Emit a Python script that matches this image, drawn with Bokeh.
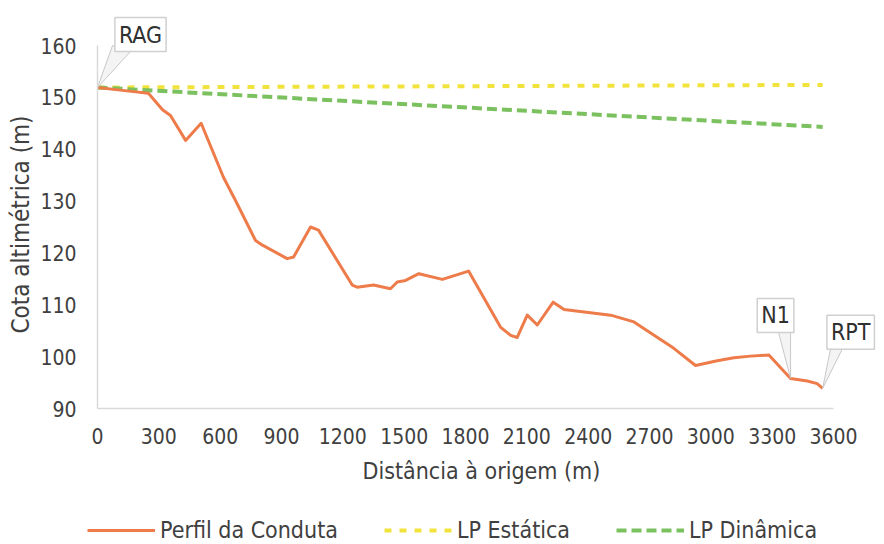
from bokeh.plotting import figure
from bokeh.models import Legend, LegendItem, Label, Range1d, FixedTicker, Title
from bokeh.layouts import column, row
from bokeh.embed import file_html
from bokeh.resources import INLINE

# ---- data ----
distancia = [0, 133, 249, 318, 357, 431, 507, 616, 675, 773, 807, 928, 959, 1042, 1081,
             1246, 1270, 1350, 1433, 1466, 1507, 1572, 1687, 1815, 1971, 2021, 2053, 2102,
             2151, 2229, 2282, 2510, 2624, 2819, 2925, 3031, 3113, 3194, 3284, 3390, 3472,
             3520, 3547]
cota = [151.9, 151.3, 150.8, 147.6, 146.5, 141.7, 145.0, 134.6, 130.1, 122.4, 121.5, 118.9,
        119.2, 125.0, 124.4, 113.8, 113.4, 113.8, 113.1, 114.4, 114.7, 116.0, 114.9, 116.5,
        105.7, 104.1, 103.7, 108.0, 106.1, 110.5, 109.1, 108.0, 106.7, 101.6, 98.3, 99.2,
        99.8, 100.1, 100.3, 95.8, 95.3, 94.8, 93.9]
lp_dist = [0, 3547]
lp_estatica = [151.9, 152.4]
lp_dinamica = [151.9, 144.3]

x_ticks = list(range(0, 3601, 300))
y_ticks = list(range(90, 161, 10))

callout_names = ["RAG", "N1", "RPT"]
callout_idx = [0, 39, 42]

x_title = "Distância à origem (m)"
y_title = "Cota altimétrica (m)"
series_names = ["Perfil da Conduta", "LP Estática", "LP Dinâmica"]

# ---- style / layout ----
FONT = "DejaVu Sans Condensed"
TXT = "#404040"
C_PERF, C_EST, C_DIN = "#ee7b4a", "#f2e33c", "#7cc160"

W = 884
H_MAIN, H_LEG = 516, 28
ML, MT = 97, 10
FRAME_BOTTOM = 408
AXIS_PX_X = 736      # px between x = 0 and x = 3600
AXIS_PX_Y = 363      # px between y = 90 and y = 160
FW = W - ML
FH = FRAME_BOTTOM - MT
sx = (x_ticks[-1] - x_ticks[0]) / AXIS_PX_X
sy = (y_ticks[-1] - y_ticks[0]) / AXIS_PX_Y

p = figure(width=W, height=H_MAIN, output_backend="svg", toolbar_location=None,
           x_range=Range1d(x_ticks[0], x_ticks[0] + FW * sx),
           y_range=Range1d(y_ticks[0], y_ticks[0] + FH * sy),
           min_border_left=ML, min_border_right=0, min_border_top=MT,
           min_border_bottom=H_MAIN - FRAME_BOTTOM)
p.outline_line_color = None
p.xgrid.visible = False
p.ygrid.visible = False

for ax in (p.xaxis[0], p.yaxis[0]):
    ax.axis_line_color = "#d9d9d9"
    ax.axis_line_width = 1.5
    ax.major_tick_line_color = None
    ax.minor_tick_line_color = None
    ax.major_tick_out = 0
    ax.major_tick_in = 0
    ax.major_label_text_font = FONT
    ax.major_label_text_font_size = "21px"
    ax.major_label_text_color = TXT

p.xaxis.ticker = FixedTicker(ticks=x_ticks)
p.yaxis.ticker = FixedTicker(ticks=y_ticks)
p.xaxis.bounds = (x_ticks[0], x_ticks[-1])
p.yaxis.bounds = (y_ticks[0], y_ticks[-1])
p.xaxis.major_label_standoff = 19
p.yaxis.major_label_standoff = 21

# axis titles as Titles so that they can be positioned along the axis
p.add_layout(Title(text=x_title, align="left", offset=265, vertical_align="middle",
                   standoff=20, text_font=FONT, text_font_size="23px",
                   text_font_style="normal", text_color=TXT), "below")
p.add_layout(Title(text=y_title, align="left", offset=75, vertical_align="middle",
                   standoff=4, text_font=FONT, text_font_size="24px",
                   text_font_style="normal", text_color=TXT), "left")

p.line(lp_dist, lp_estatica, line_color=C_EST, line_width=4, line_dash="7 8")
p.line(lp_dist, lp_dinamica, line_color=C_DIN, line_width=4, line_dash="10 5")
p.line(distancia, cota, line_color=C_PERF, line_width=3, line_join="round")

# callouts: box offsets and pointer bases in screen px relative to the anchor point
box_off = {"RAG": (43, 53), "N1": (-15, 63), "RPT": (28, 56)}
ptr_base = {"RAG": [(15, 42), (33, 36)], "N1": [(-12, 46), (0, 46)], "RPT": [(8, 40), (20, 40)]}
for name, i in zip(callout_names, callout_idx):
    ax_, ay_ = distancia[i], cota[i]
    (b1x, b1y), (b2x, b2y) = ptr_base[name]
    p.patch([ax_, ax_ + b1x * sx, ax_ + b2x * sx], [ay_, ay_ + b1y * sy, ay_ + b2y * sy],
            fill_color="#f4f4f4", line_color="#c8c8c8", line_width=1)
    ox, oy = box_off[name]
    p.add_layout(Label(x=ax_, y=ay_, x_offset=ox, y_offset=oy, text=name,
                       text_align="center", text_baseline="middle",
                       text_font=FONT, text_font_size="23px", text_color="#303030",
                       background_fill_color="white", border_line_color="#d0d0d0",
                       border_line_width=1.5, padding=4))

# ---- legend strip (proxy lines drawn out of view) ----
q = figure(width=W, height=H_LEG, output_backend="svg", toolbar_location=None,
           x_axis_type=None, y_axis_type=None, min_border=0,
           x_range=Range1d(-2, -1), y_range=Range1d(-2, -1))
q.outline_line_color = None
q.xgrid.visible = False
q.ygrid.visible = False
l_perf = q.line(distancia, cota, line_color=C_PERF, line_width=3)
l_est = q.line(lp_dist, lp_estatica, line_color=C_EST, line_width=4, line_dash="7 8")
l_din = q.line(lp_dist, lp_dinamica, line_color=C_DIN, line_width=4, line_dash="10 5")
legend = Legend(items=[LegendItem(label=series_names[0], renderers=[l_perf]),
                       LegendItem(label=series_names[1], renderers=[l_est]),
                       LegendItem(label=series_names[2], renderers=[l_din])],
                orientation="horizontal", location=(87, 1),
                label_text_font=FONT, label_text_font_size="23px", label_text_color=TXT,
                glyph_width=68, label_standoff=5, spacing=46, padding=0, margin=0,
                background_fill_alpha=0, border_line_color=None)
q.add_layout(legend, "center")

layout = column(p, row(q), spacing=0)
open("out.html", "w").write(file_html(layout, INLINE))
